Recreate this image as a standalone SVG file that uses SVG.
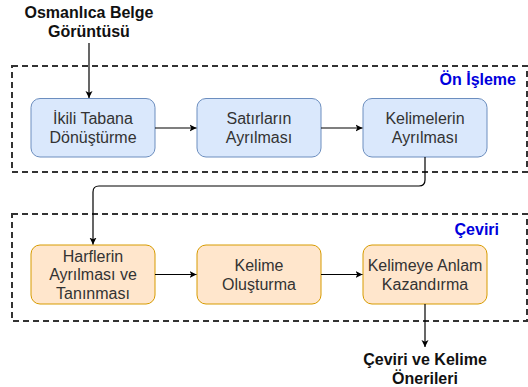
<svg xmlns="http://www.w3.org/2000/svg" width="528" height="387" viewBox="0 0 528 387">
<defs>
<marker id="arr" markerWidth="8" markerHeight="8" refX="7" refY="4" orient="auto" markerUnits="userSpaceOnUse">
<path d="M0,0.5 L7,4 L0,7.5 L1.8,4 Z" fill="#000"/>
</marker>
<style>
.box{stroke-width:1;}
.blue{fill:#dae8fc;stroke:#6c8ebf;}
.orange{fill:#ffe6cc;stroke:#d79b00;}
.grp{fill:none;stroke:#333;stroke-width:2;stroke-dasharray:6,4;}
.t{font-family:"Liberation Sans",Arial,sans-serif;font-size:16px;fill:#333;text-anchor:middle;}
.b{font-family:"Liberation Sans",Arial,sans-serif;font-size:16px;font-weight:bold;fill:#111;text-anchor:middle;}
.lbl{font-family:"Liberation Sans",Arial,sans-serif;font-size:16px;font-weight:bold;fill:#0000dd;text-anchor:end;}
.c{fill:none;stroke:#000;stroke-width:1.2;}
</style>
</defs>
<rect width="528" height="387" fill="#fff"/>
<g id="grp-onisleme">
<rect class="grp" x="12" y="66" width="515" height="106"/>
<text class="lbl" x="516" y="85">Ön İşleme</text>
</g>
<g id="grp-ceviri">
<rect class="grp" x="12" y="214" width="515" height="107"/>
<text class="lbl" x="499" y="235">Çeviri</text>
</g>
<g id="input">
<text class="b" x="89" y="17.5">Osmanlıca Belge</text>
<text class="b" x="89" y="37">Görüntüsü</text>
</g>
<g id="n1">
<rect class="box blue" x="31" y="98.5" width="124" height="58.5" rx="9"/>
<text class="t" x="93" y="124">İkili Tabana</text>
<text class="t" x="93" y="142.5">Dönüştürme</text>
</g>
<g id="n2">
<rect class="box blue" x="197" y="98.5" width="124" height="58.5" rx="9"/>
<text class="t" x="259" y="124">Satırların</text>
<text class="t" x="259" y="142.5">Ayrılması</text>
</g>
<g id="n3">
<rect class="box blue" x="363" y="98.5" width="124" height="58.5" rx="9"/>
<text class="t" x="425" y="124">Kelimelerin</text>
<text class="t" x="425" y="142.5">Ayrılması</text>
</g>
<g id="n4">
<rect class="box orange" x="31" y="245" width="124" height="59" rx="9"/>
<text class="t" x="93" y="261.5">Harflerin</text>
<text class="t" x="93" y="280">Ayrılması ve</text>
<text class="t" x="93" y="298.5">Tanınması</text>
</g>
<g id="n5">
<rect class="box orange" x="197" y="245" width="124" height="59" rx="9"/>
<text class="t" x="259" y="271">Kelime</text>
<text class="t" x="259" y="289.5">Oluşturma</text>
</g>
<g id="n6">
<rect class="box orange" x="363" y="245" width="124" height="59" rx="9"/>
<text class="t" x="425" y="271">Kelimeye Anlam</text>
<text class="t" x="425" y="289.5">Kazandırma</text>
</g>
<g id="output">
<text class="b" x="425" y="365">Çeviri ve Kelime</text>
<text class="b" x="425" y="383.5">Önerileri</text>
</g>
<g id="connectors">
<path class="c" d="M89,43 V98" marker-end="url(#arr)"/>
<path class="c" d="M155,128 H196.5" marker-end="url(#arr)"/>
<path class="c" d="M321,128 H362.5" marker-end="url(#arr)"/>
<path class="c" d="M425,157 V180 Q425,186 419,186 H99 Q93,186 93,192 V244.5" marker-end="url(#arr)"/>
<path class="c" d="M155,274.5 H196.5" marker-end="url(#arr)"/>
<path class="c" d="M321,274.5 H362.5" marker-end="url(#arr)"/>
<path class="c" d="M425,304 V347" marker-end="url(#arr)"/>
</g>
</svg>
